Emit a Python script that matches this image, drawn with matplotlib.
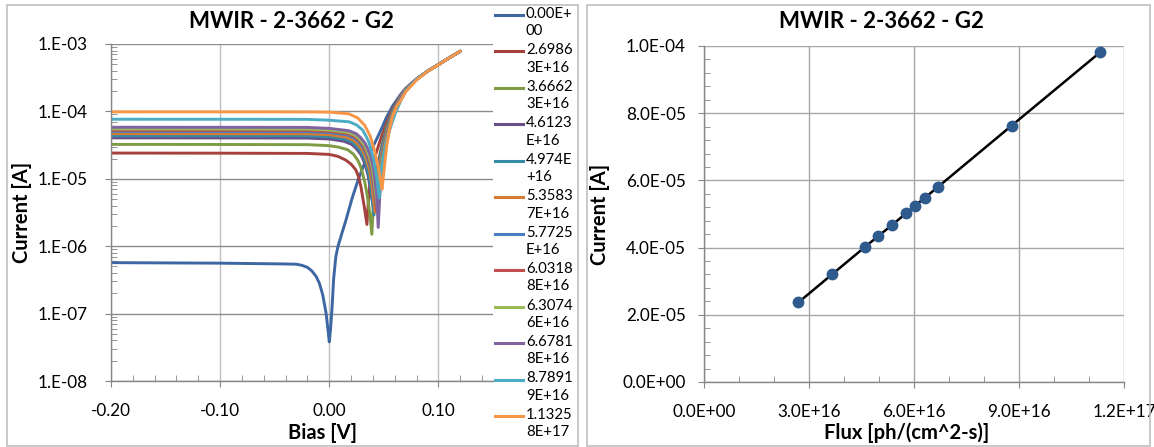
import numpy as np
import matplotlib
matplotlib.use('Agg')
import matplotlib.pyplot as plt
from matplotlib.ticker import FixedLocator, MultipleLocator, LogLocator, FuncFormatter, NullFormatter
from matplotlib.lines import Line2D
from matplotlib.patches import Rectangle

plt.rcParams['font.family'] = ['Lato', 'DejaVu Sans']

# legend labels (flux in ph/(cm^2-s)), first one is the dark curve
flux_labels = ['0.00E+00', '2.69863E+16', '3.66623E+16', '4.6123E+16', '4.974E+16',
               '5.35837E+16', '5.7725E+16', '6.03188E+16', '6.30746E+16',
               '6.67818E+16', '8.78919E+16', '1.13258E+17']

# photocurrent vs flux (right chart)
photocurrent = [2.37e-5, 3.21e-5, 4.03e-5, 4.34e-5, 4.66e-5, 5.02e-5,
                5.25e-5, 5.48e-5, 5.80e-5, 7.63e-5, 9.82e-5]

# I-V curves, |I| in A vs bias in V (left chart)
bias_0 = [-0.20, -0.15, -0.10, -0.06, -0.04, -0.03, -0.025, -0.020, -0.016, -0.012, -0.009,
          -0.006, -0.003, -0.0012, 0.000,
          0.0012, 0.0025, 0.004, 0.006, 0.008, 0.011, 0.0153, 0.0213, 0.0274, 0.0336, 0.043,
          0.048, 0.052, 0.058, 0.065, 0.070, 0.080, 0.090, 0.100, 0.110, 0.120]
cur_0 = [5.7e-7, 5.65e-7, 5.6e-7, 5.5e-7, 5.45e-7, 5.4e-7, 5.2e-7, 4.85e-7, 4.3e-7, 3.55e-7, 2.8e-7,
         1.9e-7, 1.03e-7, 5.8e-8, 3.8e-8,
         6.0e-8, 1.2e-7, 3.3e-7, 7.0e-7, 1.0e-6, 1.45e-6, 2.45e-6, 5.4e-6, 1.07e-5, 1.9e-5, 3.76e-5,
         5.6e-5, 7.9e-5, 1.2e-4, 1.75e-4, 2.2e-4, 3.05e-4, 3.95e-4, 4.95e-4, 6.25e-4, 7.8e-4]

tail_bias = [0.080, 0.090, 0.100, 0.110, 0.120]

bias_1 = [-0.20, -0.10, -0.02, 0.0, 0.008, 0.015, 0.020, 0.0244, 0.027, 0.029, 0.032, 0.0345,
          0.0362, 0.0385, 0.0425, 0.048, 0.052, 0.058, 0.065, 0.070] + tail_bias
cur_1 = [2.41e-5, 2.40e-5, 2.38e-5, 2.30e-5, 2.15e-5, 1.9e-5, 1.65e-5, 1.35e-5, 1.05e-5, 7.6e-6, 3.9e-6, 2.1e-6,
         6e-6, 1.2e-5, 2.3e-5, 4.3e-5, 6.4e-5, 1.08e-4, 1.68e-4, 2.15e-4,
         3.0e-4, 3.95e-4, 4.95e-4, 6.25e-4, 7.8e-4]

bias_2 = [-0.20, -0.10, -0.02, 0.0, 0.0085, 0.0168, 0.022, 0.026, 0.0285, 0.0305, 0.0328, 0.0345, 0.037, 0.039,
          0.0408, 0.0432, 0.047, 0.052, 0.058, 0.065, 0.070] + tail_bias
cur_2 = [3.24e-5, 3.23e-5, 3.21e-5, 3.1e-5, 2.95e-5, 2.7e-5, 2.33e-5, 1.9e-5, 1.55e-5, 1.2e-5, 8.5e-6, 6.0e-6, 3.2e-6, 1.5e-6,
         5.5e-6, 1.3e-5, 2.6e-5, 5.6e-5, 1.03e-4, 1.65e-4, 2.13e-4,
         3.0e-4, 3.95e-4, 4.95e-4, 6.25e-4, 7.8e-4]

bias_3 = [-0.20, -0.10, -0.02, 0.0, 0.0135, 0.0205, 0.0245, 0.0285, 0.031, 0.0335, 0.0355, 0.037, 0.0405,
          0.0423, 0.0448, 0.048, 0.052, 0.058, 0.065, 0.070] + tail_bias
cur_3 = [4.05e-5, 4.04e-5, 4.02e-5, 3.9e-5, 3.6e-5, 3.24e-5, 2.84e-5, 2.35e-5, 1.94e-5, 1.5e-5, 1.13e-5, 8.1e-6, 3.6e-6,
         8e-6, 1.6e-5, 2.8e-5, 5.2e-5, 1.0e-4, 1.63e-4, 2.12e-4,
         3.0e-4, 3.95e-4, 4.95e-4, 6.25e-4, 7.8e-4]

bias_4 = [-0.20, -0.10, -0.02, 0.0, 0.014, 0.021, 0.025, 0.029, 0.0315, 0.034, 0.036, 0.0375, 0.041,
          0.0428, 0.0453, 0.0485, 0.0525, 0.058, 0.065, 0.070] + tail_bias
cur_4 = [4.36e-5, 4.35e-5, 4.33e-5, 4.2e-5, 3.88e-5, 3.49e-5, 3.05e-5, 2.53e-5, 2.09e-5, 1.61e-5, 1.22e-5, 8.7e-6, 2.9e-6,
         8e-6, 1.6e-5, 2.9e-5, 5.2e-5, 9.8e-5, 1.62e-4, 2.11e-4,
         3.0e-4, 3.95e-4, 4.95e-4, 6.25e-4, 7.8e-4]

bias_5 = [-0.20, -0.10, -0.02, 0.0, 0.015, 0.022, 0.026, 0.030, 0.0325, 0.035, 0.037, 0.0385, 0.042,
          0.0438, 0.0463, 0.0495, 0.053, 0.058, 0.065, 0.070] + tail_bias
cur_5 = [4.68e-5, 4.67e-5, 4.65e-5, 4.5e-5, 4.17e-5, 3.74e-5, 3.28e-5, 2.71e-5, 2.25e-5, 1.73e-5, 1.31e-5, 9.4e-6, 3.2e-6,
         8.5e-6, 1.7e-5, 3.0e-5, 5.2e-5, 9.5e-5, 1.6e-4, 2.1e-4,
         3.0e-4, 3.95e-4, 4.95e-4, 6.25e-4, 7.8e-4]

bias_6 = [-0.20, -0.10, -0.02, 0.0, 0.016, 0.023, 0.027, 0.031, 0.0335, 0.036, 0.038, 0.0395, 0.043,
          0.0448, 0.0473, 0.050, 0.0535, 0.0585, 0.065, 0.070] + tail_bias
cur_6 = [5.04e-5, 5.03e-5, 5.01e-5, 4.85e-5, 4.49e-5, 4.03e-5, 3.53e-5, 2.92e-5, 2.42e-5, 1.86e-5, 1.41e-5, 1.01e-5, 4.0e-6,
         9e-6, 1.75e-5, 3.0e-5, 5.2e-5, 9.5e-5, 1.58e-4, 2.08e-4,
         3.0e-4, 3.95e-4, 4.95e-4, 6.25e-4, 7.8e-4]

bias_7 = [-0.20, -0.10, -0.02, 0.0, 0.0165, 0.0235, 0.0275, 0.0315, 0.034, 0.0365, 0.0385, 0.040, 0.0435,
          0.0453, 0.0478, 0.0505, 0.054, 0.059, 0.065, 0.070] + tail_bias
cur_7 = [5.27e-5, 5.26e-5, 5.24e-5, 5.07e-5, 4.69e-5, 4.22e-5, 3.69e-5, 3.06e-5, 2.53e-5, 1.95e-5, 1.48e-5, 1.05e-5, 3.4e-6,
         8.5e-6, 1.75e-5, 3.0e-5, 5.3e-5, 9.5e-5, 1.56e-4, 2.07e-4,
         3.0e-4, 3.95e-4, 4.95e-4, 6.25e-4, 7.8e-4]

bias_8 = [-0.20, -0.10, -0.02, 0.0, 0.017, 0.024, 0.028, 0.032, 0.0345, 0.037, 0.039, 0.0405, 0.044,
          0.0458, 0.0483, 0.051, 0.0545, 0.059, 0.065, 0.070] + tail_bias
cur_8 = [5.50e-5, 5.49e-5, 5.47e-5, 5.29e-5, 4.9e-5, 4.4e-5, 3.85e-5, 3.19e-5, 2.64e-5, 2.04e-5, 1.54e-5, 1.1e-5, 3.8e-6,
         9e-6, 1.8e-5, 3.1e-5, 5.4e-5, 9.3e-5, 1.54e-4, 2.05e-4,
         3.0e-4, 3.95e-4, 4.95e-4, 6.25e-4, 7.8e-4]

bias_9 = [-0.20, -0.10, -0.02, 0.0, 0.0178, 0.0248, 0.0288, 0.0328, 0.0353, 0.0378, 0.0398, 0.0413, 0.0435, 0.0448,
          0.0466, 0.0488, 0.0515, 0.055, 0.0595, 0.065, 0.070] + tail_bias
cur_9 = [5.82e-5, 5.81e-5, 5.79e-5, 5.6e-5, 5.18e-5, 4.66e-5, 4.07e-5, 3.38e-5, 2.79e-5, 2.15e-5, 1.63e-5, 1.16e-5, 5.5e-6, 1.9e-6,
         7e-6, 1.6e-5, 3.0e-5, 5.3e-5, 9.2e-5, 1.52e-4, 2.03e-4,
         3.0e-4, 3.95e-4, 4.95e-4, 6.25e-4, 7.8e-4]

bias_10 = [-0.20, -0.10, -0.02, 0.0, 0.0183, 0.025, 0.0305, 0.034, 0.0366, 0.0405, 0.0435, 0.0458,
           0.0476, 0.0498, 0.0525, 0.056, 0.0605, 0.066, 0.070] + tail_bias
cur_10 = [7.65e-5, 7.64e-5, 7.62e-5, 7.4e-5, 7.0e-5, 6.3e-5, 5.3e-5, 4.2e-5, 3.36e-5, 2.0e-5, 1.05e-5, 5.2e-6,
          1.2e-5, 2.2e-5, 3.6e-5, 5.8e-5, 9.4e-5, 1.5e-4, 2.0e-4,
          3.0e-4, 3.95e-4, 4.95e-4, 6.25e-4, 7.8e-4]

bias_11 = [-0.20, -0.10, -0.02, 0.0, 0.018, 0.026, 0.0325, 0.0375, 0.0415, 0.0445, 0.0468, 0.0483,
           0.0503, 0.0525, 0.055, 0.058, 0.062, 0.066, 0.070] + tail_bias
cur_11 = [9.85e-5, 9.84e-5, 9.82e-5, 9.75e-5, 9.2e-5, 8.0e-5, 6.2e-5, 4.3e-5, 2.6e-5, 1.6e-5, 1.0e-5, 7.0e-6,
          1.4e-5, 3.0e-5, 5.2e-5, 8.5e-5, 1.2e-4, 1.5e-4, 1.95e-4,
          2.92e-4, 3.92e-4, 4.93e-4, 6.23e-4, 7.8e-4]

biases = [bias_0, bias_1, bias_2, bias_3, bias_4, bias_5, bias_6, bias_7, bias_8, bias_9, bias_10, bias_11]
currents = [cur_0, cur_1, cur_2, cur_3, cur_4, cur_5, cur_6, cur_7, cur_8, cur_9, cur_10, cur_11]

colors = ['#3C67A2', '#A5403D', '#7F9B45', '#694F8A', '#378BA3', '#D57C33',
          '#4A7EC0', '#C0504D', '#9BBB59', '#8064A2', '#4BACC6', '#F79646']

W, H = 1154, 447
fx = lambda x: x / W
fy = lambda y: 1 - y / H

fig = plt.figure(figsize=(W / 100, H / 100), dpi=100)

# chart borders
for x0, x1 in [(7, 578), (587, 1150)]:
    fig.add_artist(Rectangle((fx(x0), fy(445.5)), (x1 - x0) / W, 440.5 / H,
                             transform=fig.transFigure, fill=False, ec='#BFBFBF', lw=1.2))

tick_fs = 12.3
label_fs = 14.5
axis_gray = '#868686'


def style_axes(ax):
    for s in ['top', 'right']:
        ax.spines[s].set_visible(False)
    for s in ['left', 'bottom']:
        ax.spines[s].set_color(axis_gray)
        ax.spines[s].set_linewidth(1.0)
    ax.tick_params(which='major', direction='out', length=4, color=axis_gray, labelsize=tick_fs)
    ax.tick_params(which='minor', direction='in', length=4, color=axis_gray)
    ax.set_axisbelow(True)


# ---- left: I-V curves ----
ax1 = fig.add_axes([fx(111), fy(381), (493 - 111) / W, (381 - 44) / H])
ax1.set_yscale('log')
for b, c, col in zip(biases, currents, colors):
    ax1.plot(b, c, color=col, lw=2.1, solid_capstyle='round', solid_joinstyle='round')
ax1.set_xlim(-0.2, 0.15)
ax1.set_ylim(1e-8, 1e-3)
ax1.xaxis.set_major_locator(FixedLocator([-0.2, -0.1, 0.0, 0.1]))
ax1.xaxis.set_major_formatter(FuncFormatter(lambda v, _: f"{v:.2f}"))
ax1.xaxis.set_minor_locator(MultipleLocator(0.02))
ax1.yaxis.set_major_locator(LogLocator(base=10, numticks=10))
ax1.yaxis.set_minor_locator(LogLocator(base=10, subs=np.arange(2, 10), numticks=50))
ax1.yaxis.set_minor_formatter(NullFormatter())
ax1.yaxis.set_major_formatter(FuncFormatter(lambda v, _: f"1.E{int(round(np.log10(v))):+03d}"))
ax1.grid(axis='y', which='major', color='#8C8C8C', lw=1.0)
ax1.grid(axis='x', which='major', color='#BFBFBF', lw=1.0)
style_axes(ax1)
ax1.tick_params(axis='x', which='major', pad=12)
ax1.tick_params(axis='y', which='major', pad=13)

# legend, drawn by hand so the line sits on the first text row
for i, (lab, col) in enumerate(zip(flux_labels, colors)):
    y = 15 + i * 36.45
    fig.add_artist(Line2D([fx(495), fx(523)], [fy(y), fy(y)], transform=fig.transFigure,
                          color=col, lw=2.2))
    fig.text(fx(526), fy(y - 8), lab[:6] + "\n" + lab[6:], ha='left', va='top',
             fontsize=10.7, linespacing=1.3)

fig.text(fx(291), fy(22), 'MWIR - 2-3662 - G2', ha='center', va='center', fontsize=16, fontweight='bold')
fig.text(fx(22), fy(212), 'Current [A]', rotation=90, ha='center', va='center', fontsize=label_fs, fontweight='bold')
fig.text(fx(322), fy(433), 'Bias [V]', ha='center', va='center', fontsize=label_fs, fontweight='bold')

# ---- right: current vs flux ----
flux = [float(s) for s in flux_labels[1:]]
ax2 = fig.add_axes([fx(704), fy(382), (1124 - 704) / W, (382 - 46) / H])
ax2.plot(flux, photocurrent, color='black', lw=1.8, zorder=3)
ax2.plot(flux, photocurrent, 'o', color='#2E5A8E', ms=7.5, zorder=4)
ax2.set_xlim(0, 1.2e17)
ax2.set_ylim(0, 1e-4)
ax2.xaxis.set_major_locator(MultipleLocator(3e16))
ax2.xaxis.set_minor_locator(MultipleLocator(1e16))
ax2.yaxis.set_major_locator(MultipleLocator(2e-5))
ax2.yaxis.set_minor_locator(MultipleLocator(4e-6))
ax2.xaxis.set_major_formatter(FuncFormatter(lambda v, _: f"{v:.1E}"))
ax2.yaxis.set_major_formatter(FuncFormatter(lambda v, _: f"{v:.1E}"))
ax2.grid(which='major', color='#A6A6A6', lw=1.0)
style_axes(ax2)
ax2.tick_params(axis='x', which='major', pad=12)
ax2.tick_params(axis='y', which='major', pad=9)

fig.text(fx(881), fy(22), 'MWIR - 2-3662 - G2', ha='center', va='center', fontsize=16, fontweight='bold')
fig.text(fx(600), fy(214), 'Current [A]', rotation=90, ha='center', va='center', fontsize=label_fs, fontweight='bold')
fig.text(fx(907), fy(433), 'Flux [ph/(cm^2-s)]', ha='center', va='center', fontsize=label_fs, fontweight='bold')

fig.savefig('out.png', dpi=100)
